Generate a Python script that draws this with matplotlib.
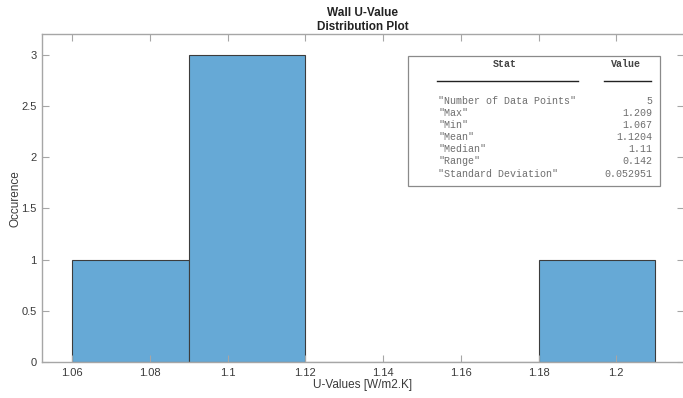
import numpy as np
import matplotlib
matplotlib.use('Agg')
import matplotlib.pyplot as plt
from matplotlib.patches import Rectangle

# wall U-values (W/m2.K) and histogram bin edges
u_values = [1.067, 1.101, 1.11, 1.115, 1.209]
bin_edges = [1.06, 1.09, 1.12, 1.15, 1.18, 1.21]

x_ticks = [1.06, 1.08, 1.1, 1.12, 1.14, 1.16, 1.18, 1.2]
x_tick_labels = ["1.06", "1.08", "1.1", "1.12", "1.14", "1.16", "1.18", "1.2"]
y_ticks = [0, 0.5, 1, 1.5, 2, 2.5, 3]
y_tick_labels = ["0", "0.5", "1", "1.5", "2", "2.5", "3"]

stat_names = ['"Number of Data Points"', '"Max"', '"Min"', '"Mean"',
              '"Median"', '"Range"', '"Standard Deviation"']
stat_values = ["5", "1.209", "1.067", "1.1204", "1.11", "0.142", "0.052951"]

W, H = 683, 398
plt.rcParams['font.family'] = ['Liberation Sans', 'DejaVu Sans']

fig = plt.figure(figsize=(W / 100, H / 100), dpi=100)
ax = fig.add_axes([42.3 / W, (H - 362.3) / H, (683.5 - 42.3) / W, (362.3 - 34) / H])

ax.hist(u_values, bins=bin_edges, color='#66a9d6', edgecolor='#3c3c3c', linewidth=0.8)

ax.set_xlim(1.0523, 1.2173)
ax.set_ylim(0, 3.2)
ax.set_xticks(x_ticks)
ax.set_xticklabels(x_tick_labels)
ax.set_yticks(y_ticks)
ax.set_yticklabels(y_tick_labels)

axis_grey = '#a6a6a6'
text_grey = '#3a3a3a'
for s in ax.spines.values():
    s.set_color(axis_grey)
    s.set_linewidth(1.0)
ax.tick_params(direction='in', length=5, width=0.8, color=axis_grey,
               labelcolor=text_grey, labelsize=8, top=True, right=True, pad=4)

ax.set_title("Wall U-Value\nDistribution Plot", fontsize=8.5, fontweight='bold',
             color='#222222', pad=3, linespacing=1.15)
ax.set_xlabel("U-Values [W/m2.K]", fontsize=8.5, color=text_grey, labelpad=1)
ax.set_ylabel("Occurence", fontsize=8.5, color=text_grey, labelpad=0)


def fx(x):
    return x / W


def fy(y):
    return 1 - y / H


# statistics box
fig.patches.append(Rectangle((fx(408), fy(186)), (660 - 408) / W, (186 - 56) / H,
                             transform=fig.transFigure, facecolor='white',
                             edgecolor='#8a8a8a', linewidth=0.9, zorder=5))
mono = 'Liberation Mono'
fig.text(fx(505), fy(64), "Stat", family=mono, fontsize=7.2, fontweight='bold',
         color='#444444', ha='center', va='center', zorder=6)
fig.text(fx(626), fy(64), "Value", family=mono, fontsize=7.2, fontweight='bold',
         color='#444444', ha='center', va='center', zorder=6)
fig.add_artist(plt.Line2D([fx(437), fx(578)], [fy(81), fy(81)], color='#222222',
                          linewidth=1.0, transform=fig.transFigure, zorder=6))
fig.add_artist(plt.Line2D([fx(604), fx(651)], [fy(81), fy(81)], color='#222222',
                          linewidth=1.0, transform=fig.transFigure, zorder=6))
for i, (name, val) in enumerate(zip(stat_names, stat_values)):
    y = 101 + i * 12.1
    fig.text(fx(438), fy(y), name, family=mono, fontsize=7.2, color='#6e6e6e',
             ha='left', va='center', zorder=6)
    fig.text(fx(652), fy(y), val, family=mono, fontsize=7.2, color='#6e6e6e',
             ha='right', va='center', zorder=6)

fig.savefig("out.png", dpi=100)
